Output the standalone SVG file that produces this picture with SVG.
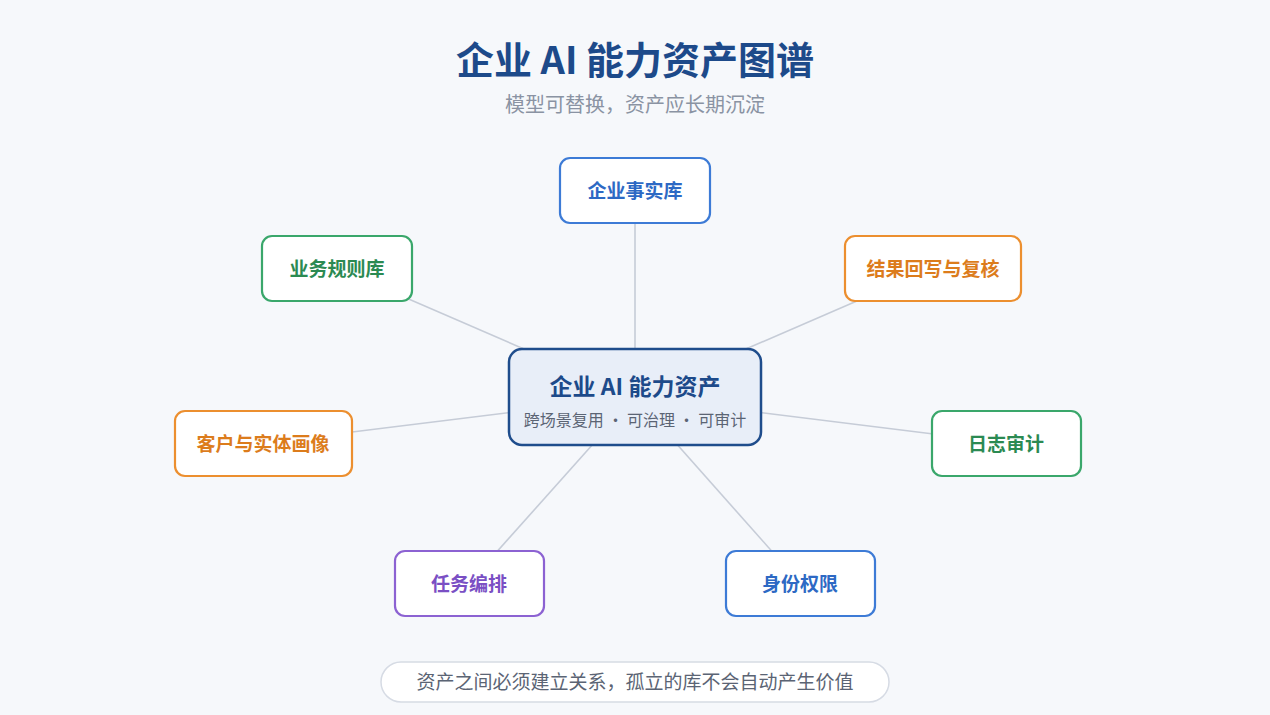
<svg xmlns="http://www.w3.org/2000/svg" width="1270" height="715" viewBox="0 0 1270 715">
<style>
text{font-family:"Noto Sans CJK SC","Noto Sans",sans-serif;text-anchor:middle}
.title{font-size:38px;font-weight:700;fill:#1d4a8a}
.sub{font-size:20px;fill:#8a93a3}
.node rect{fill:#ffffff;stroke-width:2.2}
.nt{font-size:19px;font-weight:700}
.blue rect{stroke:#3d7bd6}.blue text{fill:#2d69c4}
.green rect{stroke:#3aa76b}.green text{fill:#2b8a52}
.orange rect{stroke:#ec8f2f}.orange text{fill:#dc7c1c}
.purple rect{stroke:#8c62d2}.purple text{fill:#7a4fc4}
.conn line{stroke:#c6ccd7;stroke-width:1.6}
</style>
<rect width="1270" height="715" fill="#f6f8fb"/>
<text class="title" x="635" y="74">企业 AI 能力资产图谱</text>
<text class="sub" x="635" y="112">模型可替换，资产应长期沉淀</text>
<g id="connectors" class="conn">
<line x1="635" y1="397" x2="635" y2="190"/>
<line x1="635" y1="397" x2="337" y2="268"/>
<line x1="635" y1="397" x2="933" y2="268"/>
<line x1="635" y1="397" x2="263" y2="443"/>
<line x1="635" y1="397" x2="1006" y2="443"/>
<line x1="635" y1="397" x2="469" y2="583"/>
<line x1="635" y1="397" x2="800" y2="583"/>
</g>
<g id="center">
<rect x="509" y="349" width="252" height="96" rx="13" fill="#e8eef8" stroke="#1f4d8c" stroke-width="2.5"/>
<text x="635" y="395" font-size="23" font-weight="700" fill="#1d4a8a">企业 AI 能力资产</text>
<text x="635" y="426" font-size="16" fill="#5b6474">跨场景复用 · 可治理 · 可审计</text>
</g>
<g id="facts" class="node blue"><rect x="560" y="158" width="150" height="65" rx="10"/><text class="nt" x="635" y="198">企业事实库</text></g>
<g id="rules" class="node green"><rect x="262" y="236" width="150" height="65" rx="10"/><text class="nt" x="337" y="276">业务规则库</text></g>
<g id="writeback" class="node orange"><rect x="845" y="236" width="176" height="65" rx="10"/><text class="nt" x="933" y="276">结果回写与复核</text></g>
<g id="profile" class="node orange"><rect x="175" y="411" width="177" height="65" rx="10"/><text class="nt" x="263" y="451">客户与实体画像</text></g>
<g id="audit" class="node green"><rect x="932" y="411" width="149" height="65" rx="10"/><text class="nt" x="1006" y="451">日志审计</text></g>
<g id="orchestration" class="node purple"><rect x="395" y="551" width="149" height="65" rx="10"/><text class="nt" x="469" y="591">任务编排</text></g>
<g id="identity" class="node blue"><rect x="726" y="551" width="149" height="65" rx="10"/><text class="nt" x="800" y="591">身份权限</text></g>
<g id="note">
<rect x="381" y="662" width="508" height="40" rx="20" fill="#ffffff" stroke="#d6dbe4" stroke-width="1.5"/>
<text x="635" y="689" font-size="19" fill="#5b6474">资产之间必须建立关系，孤立的库不会自动产生价值</text>
</g>
</svg>
